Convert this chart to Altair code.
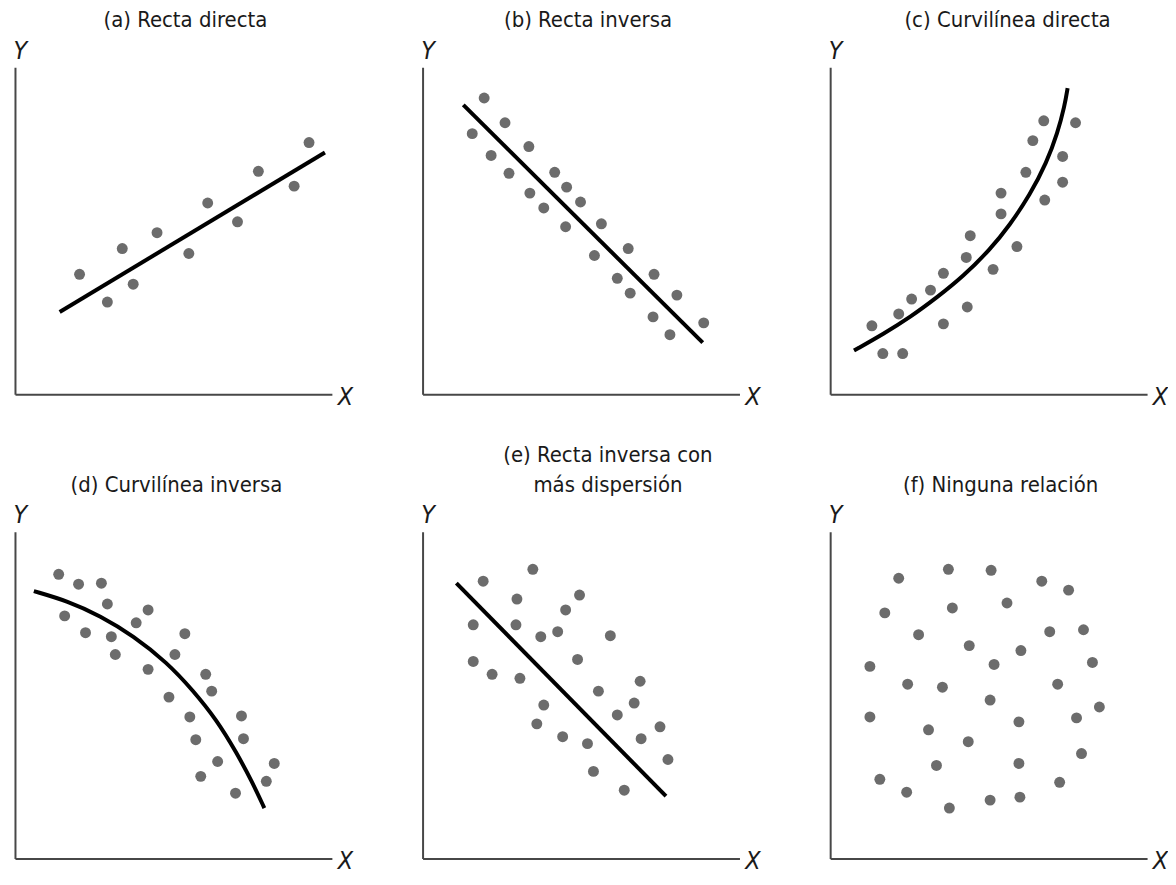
import altair as alt
import pandas as pd

FONT = "Liberation Sans Narrow, DejaVu Sans Condensed, Arial Narrow, sans-serif"
DOT = "#6c6c6c"
AXIS = "#474747"
TXT = "#1a1a1a"

# (a) Recta directa
a_x = [65, 93, 108, 119, 143, 175, 194, 224, 245, 281, 296]
a_y = [121, 93, 147, 111, 163, 142, 193, 174, 225, 210, 254]
a_lx = [45, 312]
a_ly = [83, 244]

# (b) Recta inversa
b_x = [62, 50, 83, 69, 107, 87, 133, 108, 145, 122, 159, 144, 180, 173, 207, 196, 233, 209, 256, 232, 249, 283]
b_y = [299, 263, 274, 241, 250, 223, 224, 203, 209, 188, 194, 169, 172, 140, 147, 117, 121, 102, 100, 78, 60, 72]
b_lx = [41, 282]
b_ly = [292, 52]

# (c) Curvilínea directa
c_x = [42, 53, 73, 69, 82, 101, 114, 114, 137, 141, 138, 164, 172, 172, 188, 197, 204, 216, 215, 234, 234, 247]
c_y = [69, 41, 41, 81, 96, 105, 122, 71, 138, 160, 88, 126, 182, 203, 149, 224, 256, 196, 276, 214, 240, 274]
c_lx = [24, 54, 81, 108, 134, 161, 181, 201, 218, 229, 236, 239]
c_ly = [44, 61, 78, 98, 119, 146, 171, 201, 234, 264, 291, 309]

# (d) Curvilínea inversa
d_x = [44, 64, 87, 50, 93, 71, 97, 101, 122, 134, 134, 171, 161, 155, 192, 198, 176, 228, 182, 230, 204, 187, 222, 261, 253]
d_y = [287, 277, 278, 245, 257, 228, 224, 206, 238, 251, 191, 227, 206, 163, 186, 169, 143, 144, 120, 121, 98, 83, 66, 96, 78]
d_lx = [19, 53, 86, 119, 153, 179, 203, 223, 239, 251]
d_ly = [270, 260, 245, 225, 198, 170, 140, 107, 77, 51]

# (e) Recta inversa con más dispersión
e_x = [61, 111, 95, 158, 144, 51, 94, 119, 136, 189, 51, 156, 70, 98, 219, 177, 122, 213, 196, 115, 239, 141, 166, 220, 247, 172, 203]
e_y = [280, 292, 262, 266, 251, 236, 236, 224, 229, 225, 199, 201, 186, 182, 179, 169, 155, 157, 145, 136, 133, 123, 116, 121, 100, 88, 69]
e_lx = [34, 245]
e_ly = [278, 63]

# (f) Ninguna relación
f_x = [69, 119, 162, 213, 240, 55, 123, 178, 89, 140, 192, 221, 255, 40, 165, 264, 78, 113, 229, 161,
       40, 190, 248, 271, 99, 139, 107, 190, 253, 50, 77, 231, 120, 161, 191]
f_y = [283, 292, 291, 280, 271, 248, 253, 258, 226, 215, 210, 229, 231, 194, 196, 198, 176, 173, 176, 160,
       143, 138, 142, 153, 130, 118, 94, 96, 106, 80, 67, 77, 51, 59, 62]

titles = ["(a) Recta directa", "(b) Recta inversa", "(c) Curvilínea directa",
          "(d) Curvilínea inversa", ["(e) Recta inversa con", "más dispersión"], "(f) Ninguna relación"]
title_dx = [12, 7, 19, 3, 27, 12]

W, H = 318, 328
xs = alt.Scale(domain=[0, 319], nice=False, zero=False)
ys = alt.Scale(domain=[0, 330], nice=False, zero=False)

x_axis = alt.Axis(title="X", labels=False, ticks=False, grid=False, domain=True,
                  domainColor=AXIS, domainWidth=2, titleFont=FONT, titleFontSize=25,
                  titleFontStyle="italic", titleFontWeight="normal", titleColor=TXT,
                  titleAngle=0, titleX=W + 13, titleY=2, titleAlign="center", titleBaseline="middle")
y_axis = alt.Axis(title="Y", labels=False, ticks=False, grid=False, domain=True,
                  domainColor=AXIS, domainWidth=2, titleFont=FONT, titleFontSize=25,
                  titleFontStyle="italic", titleFontWeight="normal", titleColor=TXT,
                  titleAngle=0, titleX=5, titleY=-17, titleAlign="center", titleBaseline="middle")


def panel(px, py, lx, ly, title, dx):
    pts = pd.DataFrame({"x": px, "y": py})
    layers = [
        alt.Chart(pts).mark_circle(size=120, color=DOT, opacity=1).encode(
            x=alt.X("x:Q", scale=xs, axis=x_axis),
            y=alt.Y("y:Q", scale=ys, axis=y_axis),
        )
    ]
    if lx:
        ln = pd.DataFrame({"x": lx, "y": ly})
        layers.append(
            alt.Chart(ln).mark_line(color="black", strokeWidth=4, interpolate="basis").encode(
                x=alt.X("x:Q", scale=xs, axis=x_axis),
                y=alt.Y("y:Q", scale=ys, axis=y_axis),
            )
        )
    tkw = dict(text=title, font=FONT, fontSize=22, fontWeight="normal",
               color=TXT, anchor="middle", frame="group", offset=6, dx=dx)
    if isinstance(title, list):
        tkw["lineHeight"] = 30
    return alt.layer(*layers).properties(width=W, height=H, title=alt.TitleParams(**tkw))


data = [
    (a_x, a_y, a_lx, a_ly),
    (b_x, b_y, b_lx, b_ly),
    (c_x, c_y, c_lx, c_ly),
    (d_x, d_y, d_lx, d_ly),
    (e_x, e_y, e_lx, e_ly),
    (f_x, f_y, None, None),
]

panels = [panel(*d, titles[i], title_dx[i]) for i, d in enumerate(data)]

chart = alt.concat(*panels, columns=3, spacing={"row": 138, "column": 91}, bounds="flush").configure_view(
    stroke=None
).properties(padding={"left": 5, "top": 0, "right": 0, "bottom": 0}, background="white")

chart.save("out.html", embed_options={"renderer": "svg", "actions": False})
